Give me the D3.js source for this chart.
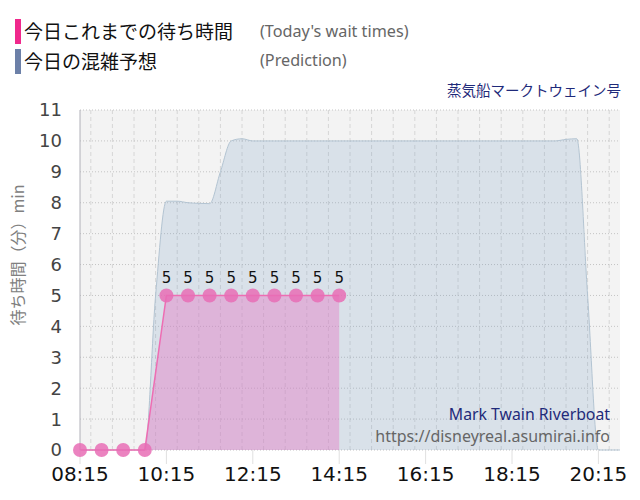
<!DOCTYPE html>
<html><head><meta charset="utf-8">
<script src="https://cdn.jsdelivr.net/npm/d3@7"></script>
<style>body{margin:0;background:#fff}svg{display:block}</style>
</head><body>
<svg id="c" width="640" height="500"></svg>
<script>
// ---- data ----
const predTimes = ["08:15","08:30","08:45","09:00","09:15","09:30","09:45","10:00","10:15","10:30","10:45","11:00","11:15","11:30","11:45","12:00","12:15","12:30","12:45","13:00","13:15","13:30","13:45","14:00","14:15","14:30","14:45","15:00","15:15","15:30","15:45","16:00","16:15","16:30","16:45","17:00","17:15","17:30","17:45","18:00","18:15","18:30","18:45","19:00","19:15","19:30","19:45","20:00","20:15","20:30","20:45"];
const predValues = [0,0,0,0,0,0,0,5,8.05,8.05,8.0,7.98,7.97,9.0,10.0,10.07,10.0,10.0,10.0,10.0,10.0,10.0,10.0,10.0,10.0,10.0,10.0,10.0,10.0,10.0,10.0,10.0,10.0,10.0,10.0,10.0,10.0,10.0,10.0,10.0,10.0,10.0,10.0,10.0,10.0,10.05,10.07,5,0,0,0];
const waitTimes = ["08:15","08:45","09:15","09:45","10:15","10:45","11:15","11:45","12:15","12:45","13:15","13:45","14:15"];
const waitValues = [0,0,0,0,5,5,5,5,5,5,5,5,5];
const xTickLabels = ["08:15","10:15","12:15","14:15","16:15","18:15","20:15"];
const yTickValues = [0,1,2,3,4,5,6,7,8,9,10,11];
const domainStart = "08:15", domainEnd = "20:45";

const parse = d3.timeParse("%H:%M");
const svg = d3.select("#c");
const L = 80, R = 620, T = 110, B = 450;
const x = d3.scaleTime().domain([parse(domainStart), parse(domainEnd)]).range([L, R]);
const y = d3.scaleLinear().domain([0, 11]).range([B, T]);

const pred = predTimes.map((t,i)=>({t:parse(t), v:predValues[i]}));
const wait = waitTimes.map((t,i)=>({t:parse(t), v:waitValues[i]}));

// background
svg.append("rect").attr("x",L).attr("y",T).attr("width",R-L).attr("height",B-T).attr("fill","#f3f3f3");

// vertical grid every 30 min
const vGrid = d3.timeMinute.every(30).range(parse(domainStart), d3.timeMinute.offset(parse(domainEnd),1));
svg.append("g").selectAll("line").data(vGrid).join("line")
  .attr("x1",d=>x(d)).attr("x2",d=>x(d)).attr("y1",T).attr("y2",B)
  .attr("stroke","#d6d6d6").attr("stroke-dasharray","4,3");
// horizontal grid
svg.append("g").selectAll("line").data(yTickValues).join("line")
  .attr("x1",L).attr("x2",R).attr("y1",d=>y(d)).attr("y2",d=>y(d))
  .attr("stroke","#c4c4c4").attr("stroke-dasharray","1,2");

// prediction area
const predArea = d3.area().x(d=>x(d.t)).y0(y(0)).y1(d=>y(d.v)).curve(d3.curveMonotoneX);
const predLine = d3.line().x(d=>x(d.t)).y(d=>y(d.v)).curve(d3.curveMonotoneX);
svg.append("path").datum(pred).attr("d",predArea).attr("fill","rgba(106,150,190,0.19)");
svg.append("path").datum(pred).attr("d",predLine).attr("fill","none").attr("stroke","#b3c4d2").attr("stroke-width",1);

// wait area
const waitArea = d3.area().x(d=>x(d.t)).y0(y(0)).y1(d=>y(d.v));
const waitLine = d3.line().x(d=>x(d.t)).y(d=>y(d.v));
svg.append("path").datum(wait).attr("d",waitArea).attr("fill","rgba(228,118,196,0.42)");
svg.append("path").datum(wait).attr("d",waitLine).attr("fill","none").attr("stroke","#ee6db3").attr("stroke-width",1.5);

// axes lines
svg.append("line").attr("x1",L).attr("x2",L).attr("y1",T).attr("y2",B).attr("stroke","#b0b0b8");
const xTicks = xTickLabels.map(parse);
svg.append("g").selectAll("line").data(xTicks).join("line")
  .attr("x1",d=>x(d)).attr("x2",d=>x(d)).attr("y1",B).attr("y2",B+14).attr("stroke","#e0e0e0");

// points
svg.append("g").selectAll("circle").data(wait).join("circle")
  .attr("cx",d=>x(d.t)).attr("cy",d=>y(d.v)).attr("r",7)
  .attr("fill","#e86db5").attr("fill-opacity",0.85);
// labels
svg.append("g").selectAll("text").data(wait.filter(d=>d.v>0)).join("text")
  .attr("x",d=>x(d.t)).attr("y",d=>y(d.v)-12).attr("text-anchor","middle")
  .attr("font-family","DejaVu Sans").attr("font-size",15).attr("fill","#111").text(d=>d.v);

// y tick labels
svg.append("g").selectAll("text").data(yTickValues).join("text")
  .attr("x",62).attr("y",d=>y(d)).attr("dy","0.36em").attr("text-anchor","end")
  .attr("font-family","DejaVu Sans").attr("font-size",18).attr("fill","#444").text(d=>d);
// x tick labels
svg.append("g").selectAll("text").data(xTicks).join("text")
  .attr("x",d=>x(d)).attr("y",481).attr("text-anchor","middle")
  .attr("font-family","DejaVu Sans").attr("font-size",20).attr("fill","#111").text(d=>d3.timeFormat("%H:%M")(d));

// y title
svg.append("text").attr("transform","translate(24,255) rotate(-90)").attr("text-anchor","middle")
  .attr("font-family","Noto Sans CJK JP").attr("font-size",16).attr("fill","#808080").text("待ち時間（分）min");

// legend
svg.append("rect").attr("x",15).attr("y",19).attr("width",6).attr("height",25).attr("fill","#f0288c");
svg.append("rect").attr("x",15).attr("y",49).attr("width",6).attr("height",25).attr("fill","#6c80a8");
svg.append("text").attr("x",24).attr("y",39).attr("font-family","Noto Sans CJK JP").attr("font-size",19).attr("fill","#111").text("今日これまでの待ち時間");
svg.append("text").attr("x",24).attr("y",69).attr("font-family","Noto Sans CJK JP").attr("font-size",19).attr("fill","#111").text("今日の混雑予想");
svg.append("text").attr("x",260).attr("y",37).attr("font-family","Noto Sans").attr("font-size",16.2).attr("fill","#666").text("(Today's wait times)");
svg.append("text").attr("x",260).attr("y",66).attr("font-family","Noto Sans").attr("font-size",16.2).attr("fill","#666").text("(Prediction)");
svg.append("text").attr("x",621).attr("y",96).attr("text-anchor","end").attr("font-family","Noto Sans CJK JP").attr("font-size",14.5).attr("fill","#1f2a7a").text("蒸気船マークトウェイン号");

// watermark
svg.append("text").attr("x",610).attr("y",420).attr("text-anchor","end").attr("font-family","Noto Sans").attr("font-size",15.8).attr("fill","#1f2a7a").text("Mark Twain Riverboat");
svg.append("text").attr("x",610).attr("y",442).attr("text-anchor","end").attr("font-family","Noto Sans").attr("font-size",16).attr("fill","#666").text("https://disneyreal.asumirai.info");
</script>
</body></html>
